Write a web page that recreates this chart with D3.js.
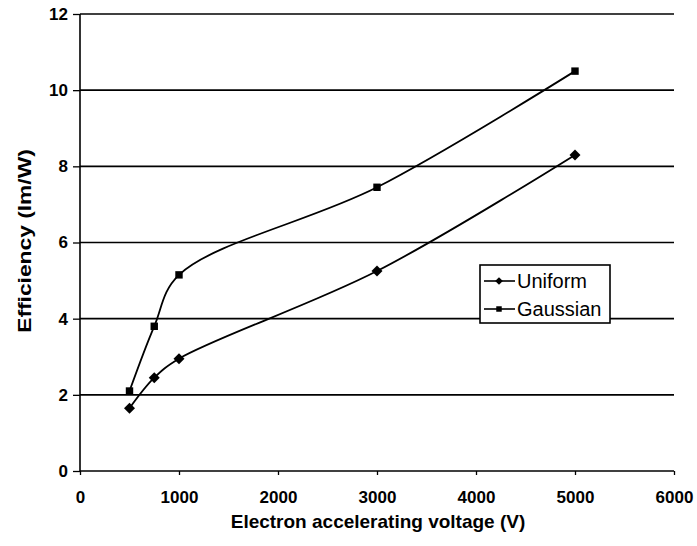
<!DOCTYPE html>
<html><head><meta charset="utf-8">
<script src="https://cdn.jsdelivr.net/npm/d3@7"></script>
<style>body{margin:0;background:#fff}svg{display:block}</style>
</head><body>
<script>
const voltages = [500, 750, 1000, 3000, 5000];
const uniform = [1.65, 2.45, 2.95, 5.25, 8.3];
const gaussian = [2.1, 3.8, 5.15, 7.45, 10.5];
const xTicks = [0, 1000, 2000, 3000, 4000, 5000, 6000];
const yTicks = [0, 2, 4, 6, 8, 10, 12];
const seriesNames = ["Uniform", "Gaussian"];

const W = 697, H = 546;
const svg = d3.select("body").append("svg").attr("width", W).attr("height", H);
const font = "Arial, 'Liberation Sans', Helvetica, sans-serif";
const x = d3.scaleLinear().domain([0, 6000]).range([80, 674]);
const y = d3.scaleLinear().domain([0, 12]).range([471, 14]);

// gridlines
svg.append("g").selectAll("line").data(yTicks.filter(d => d > 0)).join("line")
  .attr("x1", x(0)).attr("x2", x(6000)).attr("y1", d => y(d)).attr("y2", d => y(d))
  .attr("stroke", "#000").attr("stroke-width", 1.6);

// axes
const yAxis = d3.axisLeft(y).tickValues(yTicks).tickSize(7).tickPadding(5).tickFormat(d3.format("d"));
const gy = svg.append("g").attr("transform", `translate(${x(0)},0)`).call(yAxis);
const xAxis = d3.axisBottom(x).tickValues(xTicks).tickSize(4).tickPadding(16).tickFormat(d3.format("d"));
const gx = svg.append("g").attr("transform", `translate(0,${y(0)})`).call(xAxis);
[gx, gy].forEach(g => {
  g.attr("font-family", font).attr("font-size", 17).attr("font-weight", "bold");
  g.select(".domain").attr("stroke", "#000").attr("stroke-width", 1.6);
  g.selectAll(".tick line").attr("stroke", "#000").attr("stroke-width", 1.3);
  g.selectAll("text").attr("fill", "#000");
});
gx.select(".domain").attr("d", `M${x(0)},0H${x(6000)}`);
gy.select(".domain").attr("d", `M0,${y(0)}V${y(12)}`);

// titles
svg.append("text").attr("x", 378).attr("y", 528).attr("text-anchor", "middle")
  .attr("font-family", font).attr("font-size", 19).attr("font-weight", "bold").text("Electron accelerating voltage (V)");
svg.append("text").attr("transform", "translate(31,241) rotate(-90) scale(1.2,1)").attr("text-anchor", "middle")
  .attr("font-family", font).attr("font-size", 19).attr("font-weight", "bold").text("Efficiency (lm/W)");

// lines
const line = d3.line().x(d => x(d[0])).y(d => y(d[1])).curve(d3.curveCatmullRom.alpha(0.5));
const series = [uniform, gaussian];
const diamond = { draw(ctx, size) { const r = Math.sqrt(size / 2); ctx.moveTo(0, -r); ctx.lineTo(r, 0); ctx.lineTo(0, r); ctx.lineTo(-r, 0); ctx.closePath(); } };
const symbols = [diamond, d3.symbolSquare];
const sizes = [60, 55];
series.forEach((vals, i) => {
  const pts = voltages.map((v, j) => [v, vals[j]]);
  svg.append("path").attr("d", line(pts)).attr("fill", "none").attr("stroke", "#000").attr("stroke-width", 1.8);
  svg.append("g").selectAll("path").data(pts).join("path")
    .attr("transform", d => `translate(${x(d[0])},${y(d[1])})`)
    .attr("d", d3.symbol().type(symbols[i]).size(sizes[i])).attr("fill", "#000");
});

// legend
const lg = svg.append("g").attr("transform", "translate(480,265)");
lg.append("rect").attr("width", 130).attr("height", 58).attr("fill", "#fff").attr("stroke", "#000").attr("stroke-width", 1.6);
seriesNames.forEach((n, i) => {
  const cy = 16 + i * 28;
  lg.append("line").attr("x1", 4).attr("x2", 35).attr("y1", cy).attr("y2", cy).attr("stroke", "#000").attr("stroke-width", 1.6);
  lg.append("path").attr("transform", `translate(19,${cy})`).attr("d", d3.symbol().type(symbols[i]).size(30)).attr("fill", "#000");
  lg.append("text").attr("x", 37).attr("y", cy + 7).attr("font-family", font).attr("font-size", 20).text(n);
});
</script>
</body></html>
